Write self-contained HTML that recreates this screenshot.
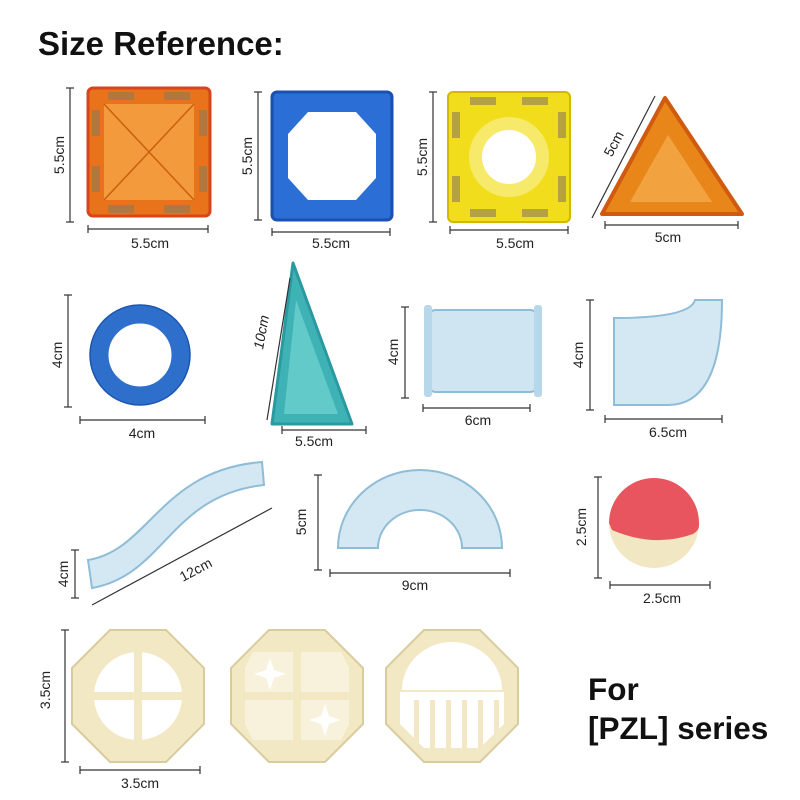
<!DOCTYPE html>
<html><head><meta charset="utf-8"><style>
html,body{margin:0;padding:0;background:#fff;}
svg{display:block;}
text{font-family:"Liberation Sans",Arial,sans-serif;fill:#222;}
.d{font-size:14px;}
.ln{stroke:#333;stroke-width:1.2;fill:none;}
</style></head><body>
<svg width="800" height="800" viewBox="0 0 800 800" xmlns="http://www.w3.org/2000/svg">
<rect width="800" height="800" fill="#fff"/>
<text x="38" y="55" font-size="33" font-weight="bold" style="fill:#111">Size Reference:</text>

<!-- Row 1 -->
<rect x="88" y="88" width="122" height="128" rx="5" fill="#e8731a"/>
<rect x="104" y="104" width="90" height="96" fill="#f39a3c"/>
<path d="M104 104L194 200M194 104L104 200" stroke="#c9600f" stroke-width="1.5"/>
<rect x="88" y="88" width="122" height="128" rx="5" fill="none" stroke="#d9441a" stroke-width="3"/>
<g fill="#9a7a50" opacity=".7"><rect x="108" y="92" width="26" height="8"/><rect x="164" y="92" width="26" height="8"/><rect x="108" y="205" width="26" height="8"/><rect x="164" y="205" width="26" height="8"/><rect x="92" y="110" width="8" height="26"/><rect x="92" y="166" width="8" height="26"/><rect x="199" y="110" width="8" height="26"/><rect x="199" y="166" width="8" height="26"/></g>
<line class="ln" x1="70" y1="88" x2="70" y2="222"/><line class="ln" x1="66" y1="88" x2="74" y2="88"/><line class="ln" x1="66" y1="222" x2="74" y2="222"/>
<text class="d" transform="translate(64,155) rotate(-90)" text-anchor="middle">5.5cm</text>
<line class="ln" x1="88" y1="229" x2="208" y2="229"/><line class="ln" x1="88" y1="225" x2="88" y2="233"/><line class="ln" x1="208" y1="225" x2="208" y2="233"/>
<text class="d" x="150" y="248" text-anchor="middle">5.5cm</text>

<rect x="272" y="92" width="120" height="128" rx="5" fill="#2a6ed6"/>
<polygon points="308,112 356,112 376,134 376,178 356,200 308,200 288,178 288,134" fill="#fff"/>
<rect x="272" y="92" width="120" height="128" rx="5" fill="none" stroke="#1b4fb0" stroke-width="3"/>
<line class="ln" x1="258" y1="92" x2="258" y2="220"/><line class="ln" x1="254" y1="92" x2="262" y2="92"/><line class="ln" x1="254" y1="220" x2="262" y2="220"/>
<text class="d" transform="translate(252,156) rotate(-90)" text-anchor="middle">5.5cm</text>
<line class="ln" x1="272" y1="232" x2="390" y2="232"/><line class="ln" x1="272" y1="228" x2="272" y2="236"/><line class="ln" x1="390" y1="228" x2="390" y2="236"/>
<text class="d" x="331" y="248" text-anchor="middle">5.5cm</text>

<rect x="448" y="92" width="122" height="130" rx="5" fill="#f2dd1c"/>
<circle cx="509" cy="157" r="40" fill="#f7ea6a"/>
<circle cx="509" cy="157" r="27" fill="#fff"/>
<g fill="#9a8a50" opacity=".7"><rect x="470" y="97" width="26" height="8"/><rect x="522" y="97" width="26" height="8"/><rect x="470" y="209" width="26" height="8"/><rect x="522" y="209" width="26" height="8"/><rect x="452" y="112" width="8" height="26"/><rect x="452" y="176" width="8" height="26"/><rect x="558" y="112" width="8" height="26"/><rect x="558" y="176" width="8" height="26"/></g>
<rect x="448" y="92" width="122" height="130" rx="5" fill="none" stroke="#d4b800" stroke-width="2"/>
<line class="ln" x1="433" y1="92" x2="433" y2="222"/><line class="ln" x1="429" y1="92" x2="437" y2="92"/><line class="ln" x1="429" y1="222" x2="437" y2="222"/>
<text class="d" transform="translate(427,157) rotate(-90)" text-anchor="middle">5.5cm</text>
<line class="ln" x1="450" y1="230" x2="568" y2="230"/><line class="ln" x1="450" y1="226" x2="450" y2="234"/><line class="ln" x1="568" y1="226" x2="568" y2="234"/>
<text class="d" x="515" y="248" text-anchor="middle">5.5cm</text>

<polygon points="665,98 602,214 742,214" fill="#e8861a" stroke="#d05a10" stroke-width="4" stroke-linejoin="round"/>
<polygon points="668,135 630,202 712,202" fill="#f2a340"/>
<line class="ln" x1="592" y1="218" x2="655" y2="96"/>
<text class="d" transform="translate(618,146) rotate(-62)" text-anchor="middle">5cm</text>
<line class="ln" x1="605" y1="225" x2="738" y2="225"/><line class="ln" x1="605" y1="221" x2="605" y2="229"/><line class="ln" x1="738" y1="221" x2="738" y2="229"/>
<text class="d" x="668" y="242" text-anchor="middle">5cm</text>

<!-- Row 2 -->
<circle cx="140" cy="355" r="41" fill="none" stroke="#2f6fcc" stroke-width="19"/>
<circle cx="140" cy="355" r="50" fill="none" stroke="#1d56b0" stroke-width="1.5"/>
<line class="ln" x1="68" y1="295" x2="68" y2="407"/><line class="ln" x1="64" y1="295" x2="72" y2="295"/><line class="ln" x1="64" y1="407" x2="72" y2="407"/>
<text class="d" transform="translate(62,355) rotate(-90)" text-anchor="middle">4cm</text>
<line class="ln" x1="80" y1="420" x2="205" y2="420"/><line class="ln" x1="80" y1="416" x2="80" y2="424"/><line class="ln" x1="205" y1="416" x2="205" y2="424"/>
<text class="d" x="142" y="438" text-anchor="middle">4cm</text>

<polygon points="293,263 272,424 352,424" fill="#3fb2b5" stroke="#2a9aa0" stroke-width="3" stroke-linejoin="round"/>
<polygon points="296,300 284,414 338,414" fill="#62cbc9"/>
<line class="ln" x1="267" y1="420" x2="290" y2="278"/>
<text class="d" transform="translate(266,333) rotate(-80)" text-anchor="middle" font-style="italic">10cm</text>
<line class="ln" x1="282" y1="430" x2="366" y2="430"/><line class="ln" x1="282" y1="426" x2="282" y2="434"/><line class="ln" x1="366" y1="426" x2="366" y2="434"/>
<text class="d" x="314" y="446" text-anchor="middle">5.5cm</text>

<rect x="428" y="310" width="110" height="82" rx="8" fill="#cfe6f2" stroke="#8fbcd6" stroke-width="2"/>
<rect x="424" y="305" width="8" height="92" rx="3" fill="#b7d8ea"/><rect x="534" y="305" width="8" height="92" rx="3" fill="#b7d8ea"/>
<line class="ln" x1="405" y1="307" x2="405" y2="398"/><line class="ln" x1="401" y1="307" x2="409" y2="307"/><line class="ln" x1="401" y1="398" x2="409" y2="398"/>
<text class="d" transform="translate(398,352) rotate(-90)" text-anchor="middle">4cm</text>
<line class="ln" x1="423" y1="408" x2="530" y2="408"/><line class="ln" x1="423" y1="404" x2="423" y2="412"/><line class="ln" x1="530" y1="404" x2="530" y2="412"/>
<text class="d" x="478" y="425" text-anchor="middle">6cm</text>

<path d="M614 318 Q690 318 695 300 L722 300 Q722 405 668 405 L614 405 Z" fill="#d3e8f3" stroke="#8fbcd6" stroke-width="2"/>
<line class="ln" x1="590" y1="300" x2="590" y2="410"/><line class="ln" x1="586" y1="300" x2="594" y2="300"/><line class="ln" x1="586" y1="410" x2="594" y2="410"/>
<text class="d" transform="translate(583,355) rotate(-90)" text-anchor="middle">4cm</text>
<line class="ln" x1="605" y1="419" x2="722" y2="419"/><line class="ln" x1="605" y1="415" x2="605" y2="423"/><line class="ln" x1="722" y1="415" x2="722" y2="423"/>
<text class="d" x="668" y="437" text-anchor="middle">6.5cm</text>

<!-- Row 3 -->
<path d="M88 560 C150 550 160 470 262 462 L264 485 C170 495 165 575 92 588 Z" fill="#d3e8f3" stroke="#8fbcd6" stroke-width="2"/>
<line class="ln" x1="75" y1="550" x2="75" y2="598"/><line class="ln" x1="71" y1="550" x2="79" y2="550"/><line class="ln" x1="71" y1="598" x2="79" y2="598"/>
<text class="d" transform="translate(68,574) rotate(-90)" text-anchor="middle">4cm</text>
<line class="ln" x1="92" y1="605" x2="272" y2="508"/>
<text class="d" transform="translate(198,574) rotate(-28)" text-anchor="middle">12cm</text>

<path d="M338 548 A82 78 0 0 1 502 548 L462 548 A42 38 0 0 0 378 548 Z" fill="#d3e8f3" stroke="#8fbcd6" stroke-width="2"/>
<line class="ln" x1="318" y1="475" x2="318" y2="570"/><line class="ln" x1="314" y1="475" x2="322" y2="475"/><line class="ln" x1="314" y1="570" x2="322" y2="570"/>
<text class="d" transform="translate(306,522) rotate(-90)" text-anchor="middle">5cm</text>
<line class="ln" x1="330" y1="573" x2="510" y2="573"/><line class="ln" x1="330" y1="569" x2="330" y2="577"/><line class="ln" x1="510" y1="569" x2="510" y2="577"/>
<text class="d" x="415" y="590" text-anchor="middle">9cm</text>

<circle cx="654" cy="523" r="45" fill="#f1e7c2"/>
<path d="M609 523 A45 45 0 0 1 699 523 Q700 530 693 534 Q654 548 612 530 Z" fill="#e8555f"/>
<line class="ln" x1="598" y1="477" x2="598" y2="578"/><line class="ln" x1="594" y1="477" x2="602" y2="477"/><line class="ln" x1="594" y1="578" x2="602" y2="578"/>
<text class="d" transform="translate(586,527) rotate(-90)" text-anchor="middle">2.5cm</text>
<line class="ln" x1="610" y1="585" x2="710" y2="585"/><line class="ln" x1="610" y1="581" x2="610" y2="589"/><line class="ln" x1="710" y1="581" x2="710" y2="589"/>
<text class="d" x="662" y="603" text-anchor="middle">2.5cm</text>

<!-- Row 4 octagons -->
<g fill="#f2e8c4" stroke="#d8cb9c" stroke-width="2">
<polygon points="110,630 166,630 204,668 204,724 166,762 110,762 72,724 72,668"/>
<polygon points="269,630 325,630 363,668 363,724 325,762 269,762 231,724 231,668"/>
<polygon points="424,630 480,630 518,668 518,724 480,762 424,762 386,724 386,668"/>
</g>
<g fill="#fff">
<circle cx="138" cy="696" r="44"/>
<path d="M400 692 L504 692 L504 724 L480 748 L424 748 L400 724 Z"/>
<path d="M402 690 A50 48 0 0 1 502 690 Z"/>
</g>
<g fill="#f8f2dc">
<polygon points="253,652 293,652 293,692 245,692 245,668"/><polygon points="301,652 341,652 349,668 349,692 301,692"/>
<polygon points="245,700 293,700 293,740 253,740 245,724"/><polygon points="301,700 349,700 349,724 341,740 301,740"/>
</g>
<g fill="#fff">
<polygon points="270,658 274,670 286,674 274,678 270,690 266,678 254,674 266,670"/>
<polygon points="325,704 329,716 341,720 329,724 325,736 321,724 309,720 321,716"/>
</g>
<g fill="#f2e8c4">
<rect x="134" y="650" width="8" height="92"/><rect x="92" y="692" width="92" height="8"/>
<rect x="414" y="700" width="5" height="46"/><rect x="430" y="700" width="5" height="48"/><rect x="446" y="700" width="5" height="48"/><rect x="462" y="700" width="5" height="48"/><rect x="478" y="700" width="5" height="48"/><rect x="494" y="700" width="5" height="40"/>
</g>
<line class="ln" x1="65" y1="630" x2="65" y2="762"/><line class="ln" x1="61" y1="630" x2="69" y2="630"/><line class="ln" x1="61" y1="762" x2="69" y2="762"/>
<text class="d" transform="translate(50,690) rotate(-90)" text-anchor="middle">3.5cm</text>
<line class="ln" x1="80" y1="770" x2="200" y2="770"/><line class="ln" x1="80" y1="766" x2="80" y2="774"/><line class="ln" x1="200" y1="766" x2="200" y2="774"/>
<text class="d" x="140" y="788" text-anchor="middle">3.5cm</text>

<text x="588" y="700" font-size="31.5" font-weight="bold" style="fill:#111">For</text>
<text x="588" y="739" font-size="31.5" font-weight="bold" style="fill:#111">[PZL] series</text>
</svg>
</body></html>
